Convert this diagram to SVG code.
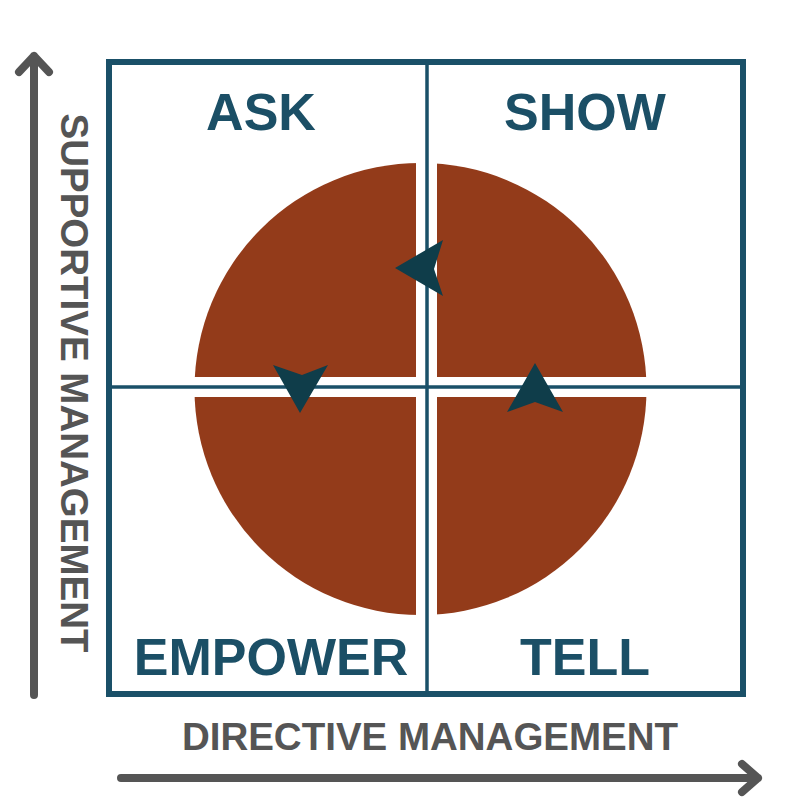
<svg xmlns="http://www.w3.org/2000/svg" width="800" height="800" viewBox="0 0 800 800">
<style>
.q{font-family:"Liberation Sans",Arial,sans-serif;font-weight:bold;font-size:52px;fill:#1B4F66;text-anchor:middle}
.ax{font-family:"Liberation Sans",Arial,sans-serif;font-weight:bold;font-size:38.5px;fill:#555555;text-anchor:middle}
.axl{stroke:#555555;stroke-width:8;fill:none;stroke-linecap:round;stroke-linejoin:round}
.grid{stroke:#1A5068;fill:none}
.tri{fill:#0F3D4A}
</style>
<rect width="800" height="800" fill="#ffffff"/>
<g id="circle">
<circle cx="420.5" cy="389" r="226" fill="#933B1A"/>
<rect x="416" y="150" width="21" height="480" fill="#ffffff"/>
<rect x="180" y="377" width="480" height="20" fill="#ffffff"/>
</g>
<g id="frame">
<rect class="grid" x="109" y="62" width="634" height="632" stroke-width="6"/>
<line class="grid" x1="427" y1="62" x2="427" y2="694" stroke-width="3.5"/>
<line class="grid" x1="109" y1="387" x2="743" y2="387" stroke-width="3.5"/>
</g>
<g id="connectors">
<polygon class="tri" points="395,268 443,240 434,269 443,296"/>
<polygon class="tri" points="300,413 273,365 302,375 328,365"/>
<polygon class="tri" points="535,363 507,412 535,402 563,412"/>
</g>
<g id="ask"><text class="q" x="261" y="130">ASK</text></g>
<g id="show"><text class="q" x="585" y="130">SHOW</text></g>
<g id="empower"><text class="q" x="271" y="675">EMPOWER</text></g>
<g id="tell"><text class="q" x="585" y="675">TELL</text></g>
<g id="axes">
<path class="axl" d="M34,695 V56 M19,72 L34,56 L49,72"/>
<path class="axl" d="M121,778 H758 M742,764 L758,778 L742,792"/>
<text class="ax" x="430" y="750">DIRECTIVE MANAGEMENT</text>
<text class="ax" transform="translate(61,383) rotate(90)" x="0" y="0">SUPPORTIVE MANAGEMENT</text>
</g>
</svg>
